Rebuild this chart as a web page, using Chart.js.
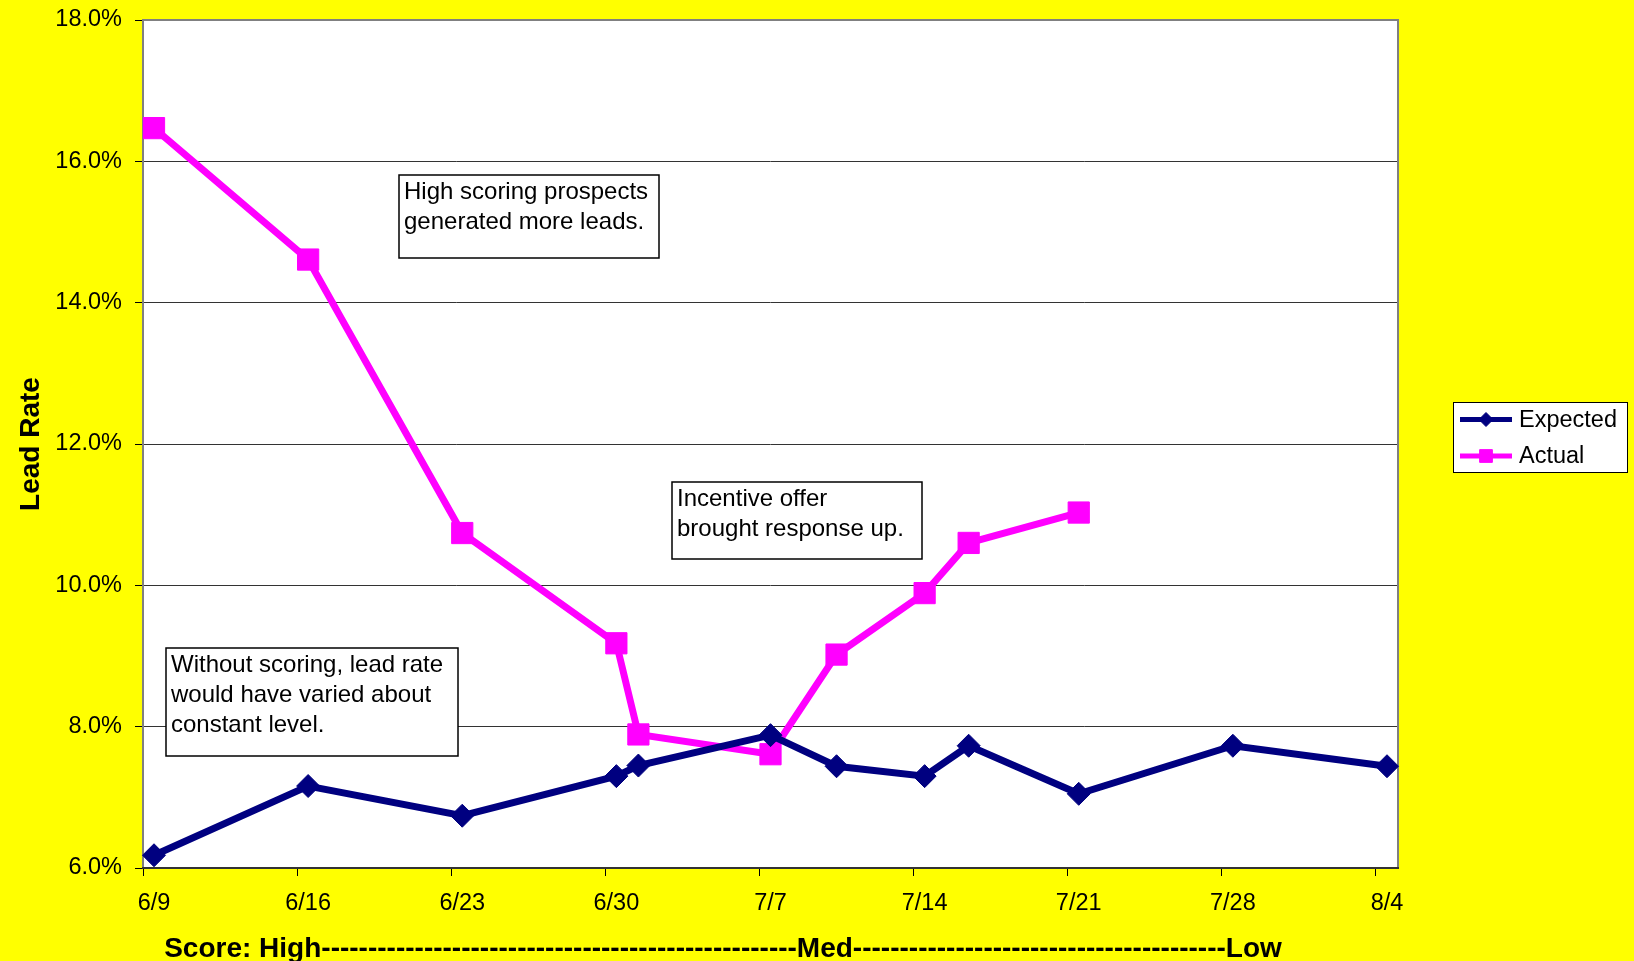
<!DOCTYPE html>
<html>
<head>
<meta charset="utf-8">
<script src="https://cdn.jsdelivr.net/npm/chart.js@4.4.1/dist/chart.umd.min.js"></script>
<style>
  html, body { margin: 0; padding: 0; background: #ffff00; }
  canvas { display: block; }
</style>
</head>
<body>
<canvas id="leadChart" width="1634" height="961"></canvas>
<script>
// data
var dates = ['6/9', '6/16', '6/23', '6/30', '7/1', '7/7', '7/10', '7/14', '7/16', '7/21', '7/28', '8/4'];
var expected = [6.18, 7.16, 6.74, 7.30, 7.45, 7.88, 7.44, 7.30, 7.73, 7.05, 7.73, 7.44];
var actual = [16.47, 14.61, 10.74, 9.18, 7.89, 7.61, 9.02, 9.89, 10.60, 11.03];
var weekLabels = ['6/9', '6/16', '6/23', '6/30', '7/7', '7/14', '7/21', '7/28', '8/4'];
var yTitle = 'Lead Rate';
var xTitle = 'Score: High' + '-'.repeat(51) + 'Med' + '-'.repeat(40) + 'Low';
var notes = [
  ['High scoring prospects', 'generated more leads.'],
  ['Incentive offer', 'brought response up.'],
  ['Without scoring, lead rate', 'would have varied about', 'constant level.']
];

var FONT = "'Liberation Sans', Arial, sans-serif";
var monthStart = { 6: 0, 7: 30, 8: 61 };

// days since 6/9, point sits in the middle of its day
function dayOf(s) {
  var p = s.split('/');
  return monthStart[+p[0]] + (+p[1]) - 9;
}
function toPoints(vals) {
  return vals.map(function (v, i) { return { x: dayOf(dates[i]) + 0.5, y: v }; });
}

var plotFrame = {
  id: 'plotFrame',
  beforeDraw: function (chart) {
    var c = chart.ctx, a = chart.chartArea;
    c.save();
    c.fillStyle = '#ffff00';
    c.fillRect(0, 0, chart.width, chart.height);
    c.fillStyle = '#ffffff';
    c.fillRect(a.left, a.top, a.right - a.left, a.bottom - a.top);
    c.restore();
  },
  beforeDatasetsDraw: function (chart) {
    var c = chart.ctx, a = chart.chartArea;
    c.save();
    c.lineWidth = 2;
    c.strokeStyle = '#808080';
    c.beginPath();
    c.moveTo(a.left, a.bottom);
    c.lineTo(a.left, a.top);
    c.lineTo(a.right, a.top);
    c.lineTo(a.right, a.bottom);
    c.stroke();
    c.strokeStyle = '#333333';
    c.beginPath();
    c.moveTo(a.left - 1, a.bottom);
    c.lineTo(a.right + 1, a.bottom);
    c.stroke();
    c.restore();
  }
};

var textBoxes = {
  id: 'textBoxes',
  afterDatasetsDraw: function (chart, args, opts) {
    var c = chart.ctx;
    c.save();
    c.font = opts.size + 'px ' + FONT;
    c.textBaseline = 'alphabetic';
    c.textAlign = 'left';
    opts.boxes.forEach(function (b, k) {
      c.fillStyle = '#ffffff';
      c.fillRect(b[0], b[1], b[2], b[3]);
      c.strokeStyle = '#000000';
      c.lineWidth = 1.5;
      c.strokeRect(b[0], b[1], b[2], b[3]);
      c.fillStyle = '#000000';
      notes[k].forEach(function (line, i) {
        c.fillText(line, b[0] + 5, b[1] + 23.5 + i * 30);
      });
    });
    c.restore();
  }
};

var sideLegend = {
  id: 'sideLegend',
  afterDraw: function (chart, args, opts) {
    var c = chart.ctx, b = opts.box;
    c.save();
    c.fillStyle = '#ffffff';
    c.fillRect(b[0], b[1], b[2], b[3]);
    c.strokeStyle = '#000000';
    c.lineWidth = 1;
    c.strokeRect(b[0] + 0.5, b[1] + 0.5, b[2], b[3]);
    chart.data.datasets.forEach(function (ds, i) {
      var y = opts.rows[i];
      c.strokeStyle = ds.borderColor;
      c.lineWidth = 5;
      c.beginPath();
      c.moveTo(b[0] + 7, y);
      c.lineTo(b[0] + 59, y);
      c.stroke();
      c.fillStyle = ds.borderColor;
      c.lineWidth = 1;
      Chart.helpers.drawPoint(c, { pointStyle: ds.pointStyle, radius: opts.radius[i], rotation: 0, borderWidth: 1 }, b[0] + 33, y);
      c.fillStyle = '#000000';
      c.font = '23.5px ' + FONT;
      c.textBaseline = 'middle';
      c.fillText(ds.label, b[0] + 66, y + 1);
    });
    c.restore();
  }
};

var xTitleText = {
  id: 'xTitleText',
  afterDraw: function (chart, args, opts) {
    var c = chart.ctx;
    c.save();
    c.font = 'bold 28px ' + FONT;
    c.fillStyle = '#000000';
    c.textAlign = 'center';
    c.textBaseline = 'alphabetic';
    c.fillText(xTitle, opts.x, opts.y);
    c.restore();
  }
};

new Chart(document.getElementById('leadChart'), {
  type: 'line',
  data: {
    datasets: [{
      label: 'Expected',
      data: toPoints(expected),
      borderColor: '#000080',
      backgroundColor: '#000080',
      borderWidth: 7,
      pointStyle: 'rectRot',
      pointRadius: 11.5,
      pointBorderWidth: 1,
      pointBackgroundColor: '#000080',
      pointBorderColor: '#000080',
      clip: false
    }, {
      label: 'Actual',
      data: toPoints(actual),
      borderColor: '#ff00ff',
      backgroundColor: '#ff00ff',
      borderWidth: 7,
      pointStyle: 'rect',
      pointRadius: 15,
      pointBorderWidth: 1,
      pointBackgroundColor: '#ff00ff',
      pointBorderColor: '#ff00ff',
      clip: false
    }]
  },
  options: {
    responsive: false,
    animation: false,
    devicePixelRatio: 1,
    layout: { autoPadding: false, padding: { left: 0, top: 20, right: 236, bottom: 0 } },
    plugins: {
      legend: { display: false },
      tooltip: { enabled: false },
      textBoxes: {
        size: 24,
        boxes: [[399, 175, 260, 83], [672, 482, 250, 77], [166, 648, 292, 108]]
      },
      sideLegend: { box: [1453, 402, 174, 70], rows: [419.5, 456], radius: [7, 9] },
      xTitleText: { x: 723, y: 956.5 }
    },
    scales: {
      x: {
        type: 'linear',
        min: 0,
        max: 57,
        afterBuildTicks: function (scale) {
          scale.ticks = weekLabels.map(function (l, i) { return { value: i * 7 }; });
        },
        afterFit: function (scale) { scale.height = 93; },
        grid: { drawOnChartArea: false, drawTicks: true, tickLength: 8, tickColor: '#000000', tickWidth: 1 },
        border: { display: false },
        ticks: {
          autoSkip: false,
          maxRotation: 0,
          padding: 13,
          labelOffset: 11,
          color: '#000000',
          font: { family: FONT, size: 23.5 },
          callback: function (v, i) { return weekLabels[i]; }
        }
      },
      y: {
        min: 6,
        max: 18,
        afterFit: function (scale) { scale.width = 143; },
        grid: { color: '#333333', lineWidth: 1, tickLength: 8, tickColor: '#000000' },
        border: { display: false },
        ticks: {
          stepSize: 2,
          padding: 13,
          color: '#000000',
          // small lineHeight keeps the top label from pushing the plot down
          font: { family: FONT, size: 23.5, lineHeight: 0.5 },
          callback: function (v) { return v.toFixed(1) + '%'; }
        },
        title: {
          display: true,
          text: yTitle,
          color: '#000000',
          padding: { top: 14, bottom: 0 },
          font: { family: FONT, size: 28, weight: 'bold' }
        }
      }
    }
  },
  plugins: [plotFrame, textBoxes, sideLegend, xTitleText]
});
</script>
</body>
</html>
